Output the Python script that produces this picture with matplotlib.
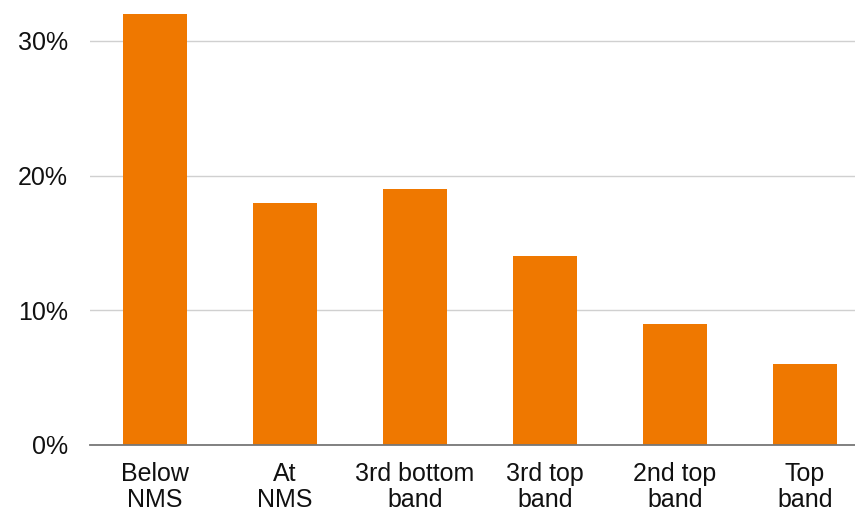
import matplotlib
matplotlib.use("Agg")
import matplotlib.pyplot as plt
from matplotlib.ticker import FuncFormatter

categories = ["Below\nNMS", "At\nNMS", "3rd bottom\nband", "3rd top\nband", "2nd top\nband", "Top\nband"]
values = [32, 18, 19, 14, 9, 6]
yticks = [0, 10, 20, 30]

plt.rcParams["font.family"] = ["Liberation Sans", "DejaVu Sans"]

fig = plt.figure(figsize=(8.55, 5.14), dpi=100)
# axes run slightly past the right edge, like the original
ax = fig.add_axes([90 / 855, 69 / 514, 780 / 855, 444.5 / 514])

x = list(range(len(categories)))
ax.bar(x, values, width=0.49, color="#EF7800", zorder=3)

ax.set_xlim(-0.5, len(categories) - 0.5)
ax.set_ylim(0, 33)
ax.set_yticks(yticks)
ax.yaxis.set_major_formatter(FuncFormatter(lambda v, p: f"{v:.0f}%"))
ax.set_xticks(x)
ax.set_xticklabels(categories, linespacing=1.1)

ax.grid(axis="y", color="#d0d0d0", linewidth=1, zorder=0)
ax.tick_params(axis="both", length=0, labelsize=18, colors="#111111")
ax.tick_params(axis="y", pad=16)
ax.tick_params(axis="x", pad=12)

for side in ["top", "right", "left"]:
    ax.spines[side].set_visible(False)
ax.spines["bottom"].set_color("#777777")
ax.spines["bottom"].set_linewidth(1.3)
ax.spines["bottom"].set_zorder(4)

fig.savefig("out.png", dpi=100)
